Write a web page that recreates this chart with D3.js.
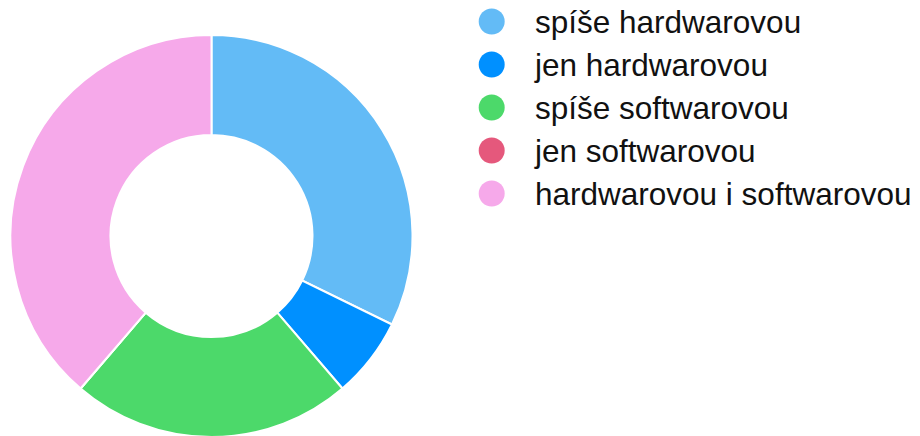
<!DOCTYPE html>
<html><head><meta charset="utf-8">
<script src="https://cdn.jsdelivr.net/npm/d3@7"></script>
<style>html,body{margin:0;padding:0;background:#fff;}svg{display:block;}</style>
</head><body>
<svg id="chart" width="920" height="436"></svg>
<script>
const categories = ["spíše hardwarovou","jen hardwarovou","spíše softwarovou","jen softwarovou","hardwarovou i softwarovou"];
const values = [10, 2, 7, 0, 12];
const colors = ["#63bbf6","#0090ff","#4cd96a","#e5587c","#f6a9ea"];

const svg = d3.select("#chart");
const cx = 211.5, cy = 236, outerR = 201, innerR = 101;
const pie = d3.pie().sort(null).value(d => d.v);
const arc = d3.arc().innerRadius(innerR).outerRadius(outerR);
const data = categories.map((c,i)=>({c, v: values[i], col: colors[i]}));
svg.append("g").attr("transform",`translate(${cx},${cy})`)
  .selectAll("path").data(pie(data)).join("path")
  .attr("d", arc).attr("fill", d=>d.data.col)
  .attr("stroke","#fff").attr("stroke-width",2);

const y = d3.scalePoint().domain(categories).range([21.5,193.5]);
const lg = svg.append("g");
const items = lg.selectAll("g").data(data).join("g")
  .attr("transform", d=>`translate(0,${y(d.c)})`);
items.append("circle").attr("cx",491.7).attr("cy",0).attr("r",13).attr("fill",d=>d.col);
items.append("text").attr("x",535).attr("y",11.5)
  .attr("font-family","'Liberation Sans', Arial, sans-serif").attr("font-size",31.5)
  .attr("fill","#111").text(d=>d.c);
</script>
</body></html>
